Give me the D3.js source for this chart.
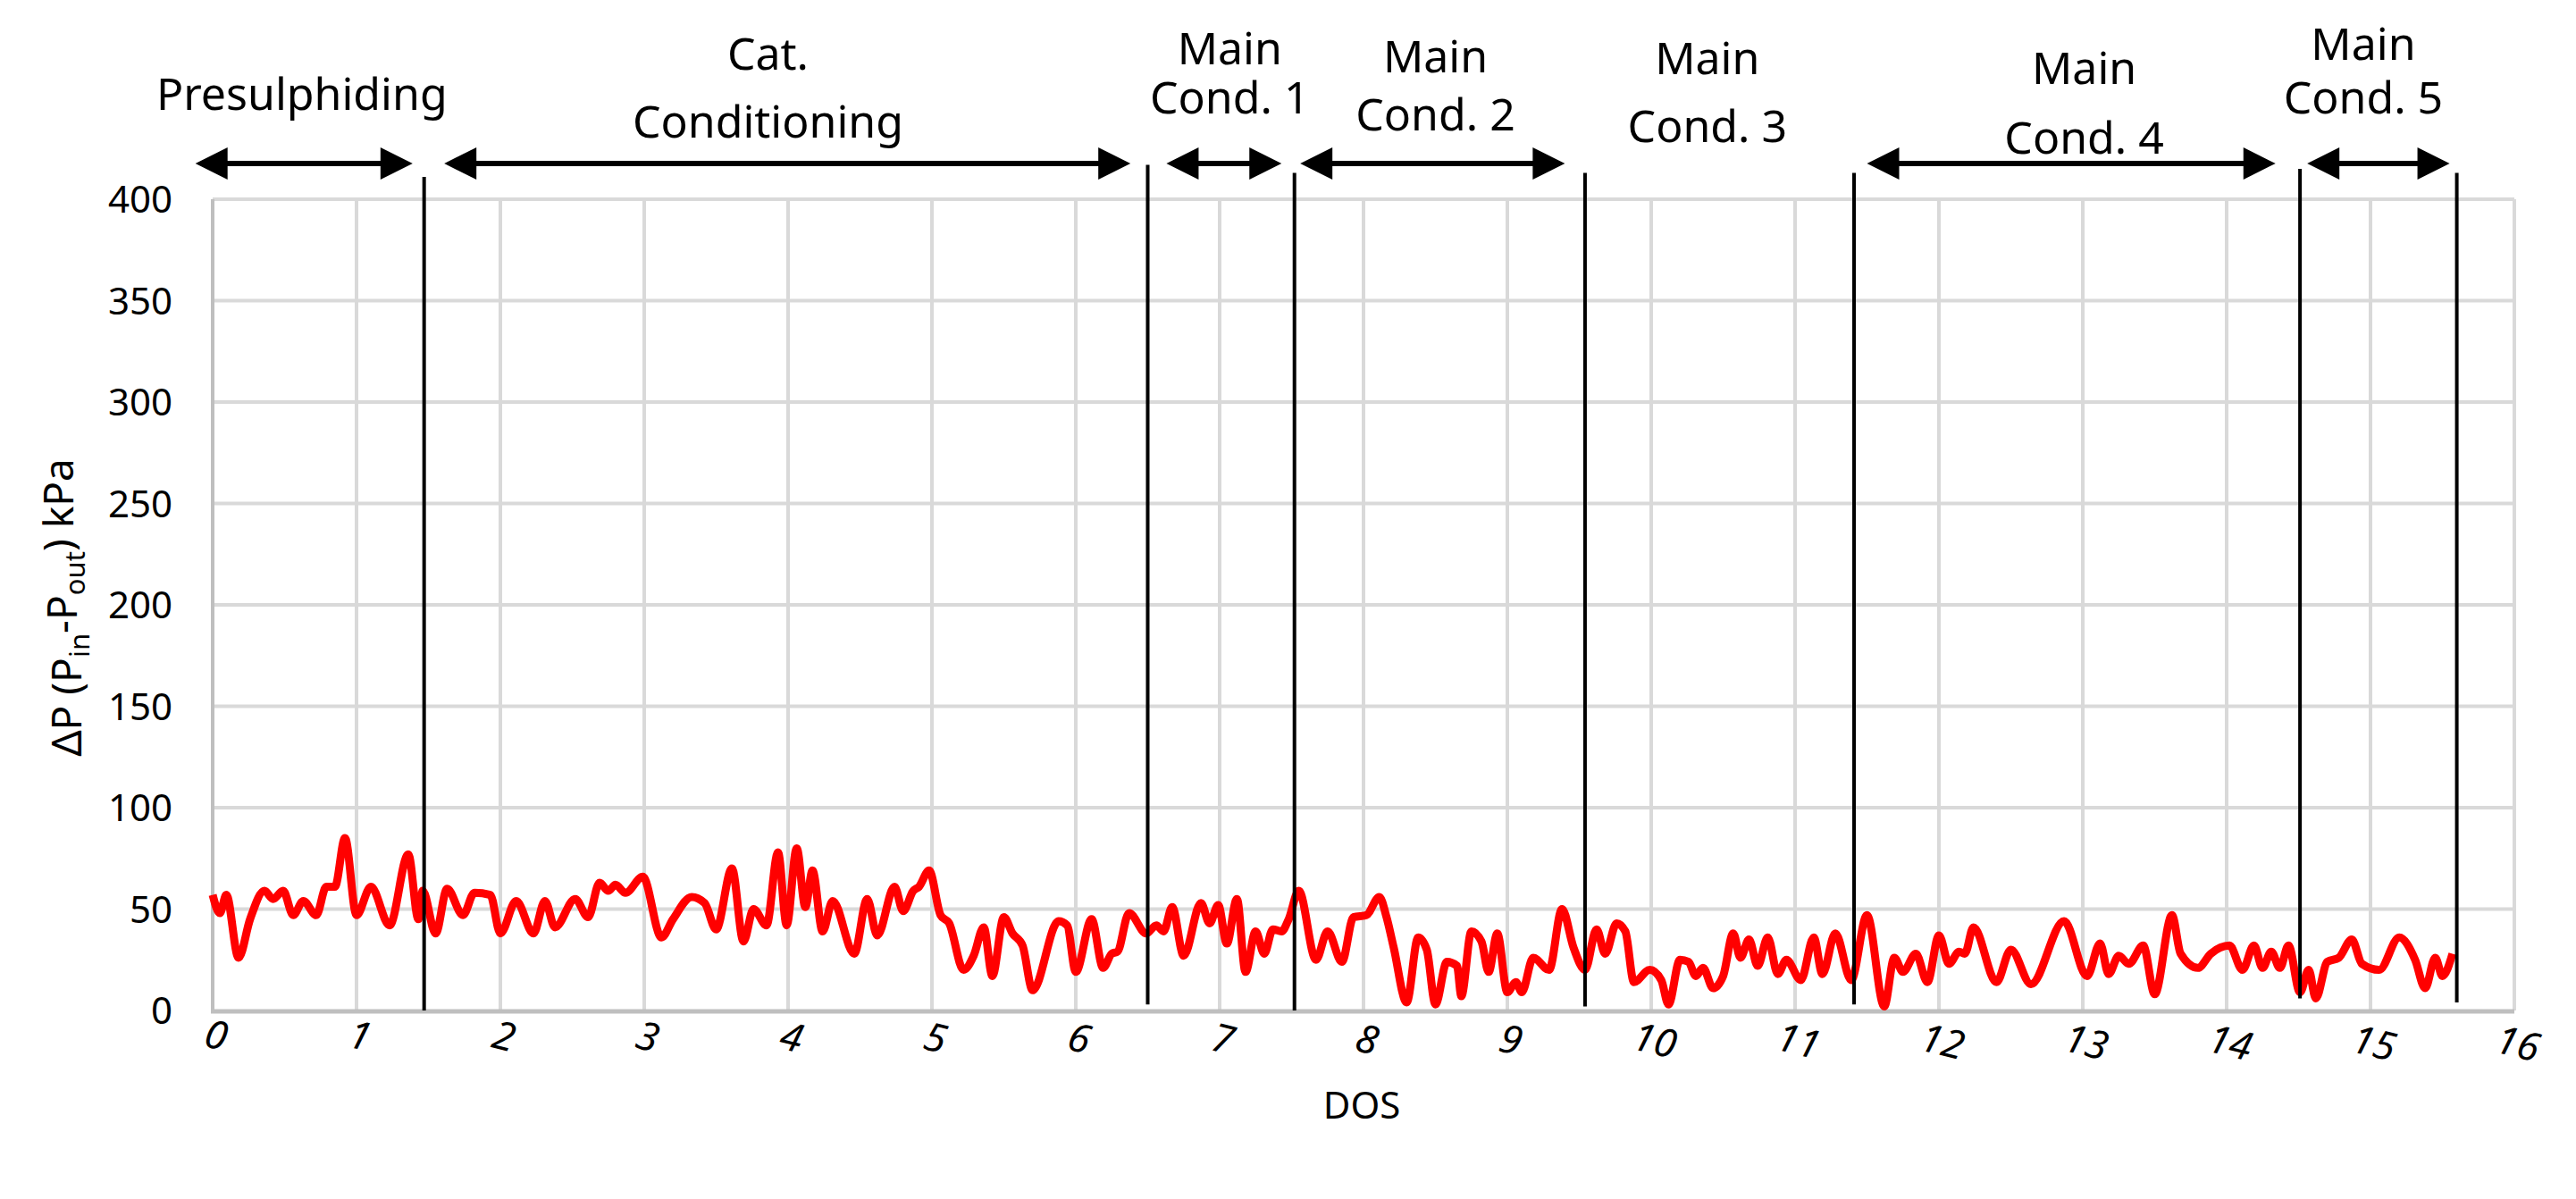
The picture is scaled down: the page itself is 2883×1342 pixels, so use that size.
<!DOCTYPE html>
<html>
<head>
<meta charset="utf-8">
<script src="https://cdn.jsdelivr.net/npm/d3@7"></script>
<style>
  body { margin: 0; background: #fff; }
  text { font-family: "Noto Sans", "Open Sans", sans-serif; fill: #000; }
</style>
</head>
<body>
<svg id="chart" width="2883" height="1342"></svg>
<script>
// DOS vs pressure drop (kPa)
var dos = [0.0,0.05,0.095,0.18,0.26,0.36,0.42,0.49,0.56,0.63,0.72,0.79,0.85,0.92,1.0,1.10,1.23,1.36,1.43,1.46,
  1.55,1.63,1.74,1.82,1.93,2.0,2.11,2.23,2.31,2.38,2.52,2.61,2.69,2.75,2.80,2.87,2.99,3.12,3.20,3.33,3.42,3.50,3.61,3.69,3.76,3.85,3.93,3.99,4.06,
  4.12,4.17,4.24,4.31,4.46,4.55,4.62,4.74,4.80,4.87,4.91,4.98,5.06,5.12,5.22,5.29,5.36,5.42,5.50,5.56,5.63,5.70,5.88,5.94,6.00,6.11,6.19,6.25,6.29,6.37,
  6.49,6.56,6.61,6.67,6.75,6.87,6.93,6.99,7.05,7.12,7.18,7.25,7.31,7.37,7.43,7.48,7.55,7.67,7.75,7.85,7.93,8.02,
  8.11,8.16,8.21,8.30,8.38,8.44,8.50,8.58,8.65,8.68,8.75,8.82,8.87,8.93,9.00,9.06,9.10,9.18,9.29,9.38,9.46,9.54,9.62,9.68,9.76,9.82,9.88,9.99,
  10.07,10.12,10.20,10.26,10.31,10.36,10.43,10.50,10.57,10.62,10.68,10.74,10.81,10.88,10.94,11.04,11.13,11.19,11.28,11.39,11.50,11.62,11.69,11.75,11.84,11.92,
  12.0,12.07,12.14,12.18,12.24,12.40,12.50,12.64,12.87,13.03,13.12,13.18,13.25,13.32,13.42,13.50,13.62,13.68,13.80,13.89,14.02,14.11,14.19,14.25,14.31,14.37,14.43,
  14.51,14.57,14.62,14.70,14.78,14.87,14.94,15.06,15.20,15.31,15.38,15.45,15.50,15.57];
var dp = [57,48,57,26,45,59,55,59,47,54,47,61,61,85,47,61,42,77,45,59,
  38,60,47,58,57,38,54,38,54,41,55,46,63,59,62,58,66,36,45,56,53,40,70,34,50,42,78,42,80,
  51,69,39,54,28,55,37,61,49,59,61,69,47,43,20,27,41,17,46,38,32,10,44,42,19,45,21,28,29,48,
  38,42,39,51,27,53,43,52,33,55,19,39,28,40,39,45,59,25,39,24,46,47,
  56,46,31,4,36,30,3,24,22,7,39,34,19,38,9,14,9,26,20,50,31,20,40,28,43,39,14,20,
  15,3,25,24,17,21,11,17,38,26,35,22,36,18,25,15,36,18,38,15,47,2,26,19,28,14,
  37,23,29,28,41,14,30,13,44,17,33,18,27,23,32,8,47,28,21,28,32,20,32,21,29,21,32,
  9,20,6,24,26,35,23,20,36,25,11,26,17,28];

// phase boundaries (DOS) with top / bottom of each marker line (kPa)
var phaseLines = [1.47, 6.50, 7.52, 9.54, 11.41, 14.51, 15.60];
var phaseTop = [411, 417, 413, 413, 413, 415, 413];
var phaseBottom = [0, 3, 0, 2, 3, 6, 4];

// double arrows above the plot: start / end DOS
var arrowStart = [-0.12, 1.61, 6.63, 7.56, 11.50, 14.56];
var arrowEnd = [1.39, 6.38, 7.43, 9.40, 14.34, 15.55];

var phaseNames = [["Presulphiding"], ["Cat.", "Conditioning"], ["Main", "Cond. 1"], ["Main", "Cond. 2"],
  ["Main", "Cond. 3"], ["Main", "Cond. 4"], ["Main", "Cond. 5"]];
var phaseNameX = [0.62, 3.86, 7.07, 8.50, 10.39, 13.01, 14.95];
var phaseNameY = [[123], [78, 154], [72, 127], [81, 146], [83, 159], [94, 172], [67, 127]];

var xTicks = d3.range(0, 17);
var yTicks = [0, 50, 100, 150, 200, 250, 300, 350, 400];

var svg = d3.select("#chart");
var x = d3.scaleLinear().domain([0, 16]).range([238, 2814]);
var y = d3.scaleLinear().domain([0, 400]).range([1131, 223]);

// grid
svg.append("g").selectAll("line").data(yTicks.slice(1)).join("line")
  .attr("x1", x(0)).attr("x2", x(16)).attr("y1", d => y(d)).attr("y2", d => y(d))
  .attr("stroke", "#d9d9d9").attr("stroke-width", 4);
svg.append("g").selectAll("line").data(xTicks.slice(1)).join("line")
  .attr("x1", d => x(d)).attr("x2", d => x(d)).attr("y1", y(0)).attr("y2", y(400))
  .attr("stroke", "#d9d9d9").attr("stroke-width", 4);
// axes lines
svg.append("line").attr("x1", x(0)).attr("x2", x(0)).attr("y1", y(0)).attr("y2", y(400))
  .attr("stroke", "#bfbfbf").attr("stroke-width", 4);
svg.append("line").attr("x1", x(0) - 2).attr("x2", x(16)).attr("y1", y(0) + 1).attr("y2", y(0) + 1)
  .attr("stroke", "#bfbfbf").attr("stroke-width", 5);

// y tick labels
svg.append("g").selectAll("text").data(yTicks).join("text")
  .attr("x", 193).attr("y", d => y(d)).attr("dy", "0.36em")
  .attr("text-anchor", "end").attr("font-size", 42).text(d => d);

// x tick labels (italic, tilted)
svg.append("g").selectAll("text").data(xTicks).join("text")
  .attr("transform", d => "translate(" + (x(d) + 4) + "," + (1158 + d * 0.6) + ") rotate(14)")
  .attr("dy", "0.36em").attr("text-anchor", "middle")
  .attr("font-size", 44).attr("font-style", "italic").text(d => d);

// axis titles
svg.append("text").attr("x", 1524).attr("y", 1237).attr("dy", "0.36em")
  .attr("text-anchor", "middle").attr("font-size", 42).text("DOS");
var yt = svg.append("text").attr("transform", "translate(74,680) rotate(-90)")
  .attr("dy", "0.36em").attr("text-anchor", "middle").attr("font-size", 46);
yt.append("tspan").text("ΔP (P");
yt.append("tspan").attr("font-size", 31).attr("dy", "0.3em").text("in");
yt.append("tspan").attr("dy", "-0.3em").text("-P");
yt.append("tspan").attr("font-size", 31).attr("dy", "0.3em").text("out");
yt.append("tspan").attr("dy", "-0.3em").text(") kPa");

// data line
var pts = dos.map((d, i) => [d, dp[i]]);
svg.append("path").datum(pts)
  .attr("fill", "none").attr("stroke", "#ff0000").attr("stroke-width", 9)
  .attr("stroke-linejoin", "round")
  .attr("d", d3.line().x(d => x(d[0])).y(d => y(d[1])).curve(d3.curveMonotoneX));

// phase marker lines
svg.append("g").selectAll("line").data(phaseLines).join("line")
  .attr("x1", d => x(d)).attr("x2", d => x(d))
  .attr("y1", (d, i) => y(phaseTop[i])).attr("y2", (d, i) => y(phaseBottom[i]))
  .attr("stroke", "#000").attr("stroke-width", 4);

// double arrows
var ay = 183, ah = 36, aw = 18;
var arrows = svg.append("g");
arrowStart.forEach(function (s, i) {
  var x1 = x(s), x2 = x(arrowEnd[i]);
  arrows.append("line").attr("x1", x1 + ah - 4).attr("x2", x2 - ah + 4).attr("y1", ay).attr("y2", ay)
    .attr("stroke", "#000").attr("stroke-width", 6);
  arrows.append("path").attr("d", "M" + x1 + "," + ay + "L" + (x1 + ah) + "," + (ay - aw) + "L" + (x1 + ah) + "," + (ay + aw) + "Z");
  arrows.append("path").attr("d", "M" + x2 + "," + ay + "L" + (x2 - ah) + "," + (ay - aw) + "L" + (x2 - ah) + "," + (ay + aw) + "Z");
});

// phase names
phaseNames.forEach(function (lines, i) {
  lines.forEach(function (t, j) {
    svg.append("text").attr("x", x(phaseNameX[i])).attr("y", phaseNameY[i][j])
      .attr("text-anchor", "middle").attr("font-size", 50).text(t);
  });
});
</script>
</body>
</html>
